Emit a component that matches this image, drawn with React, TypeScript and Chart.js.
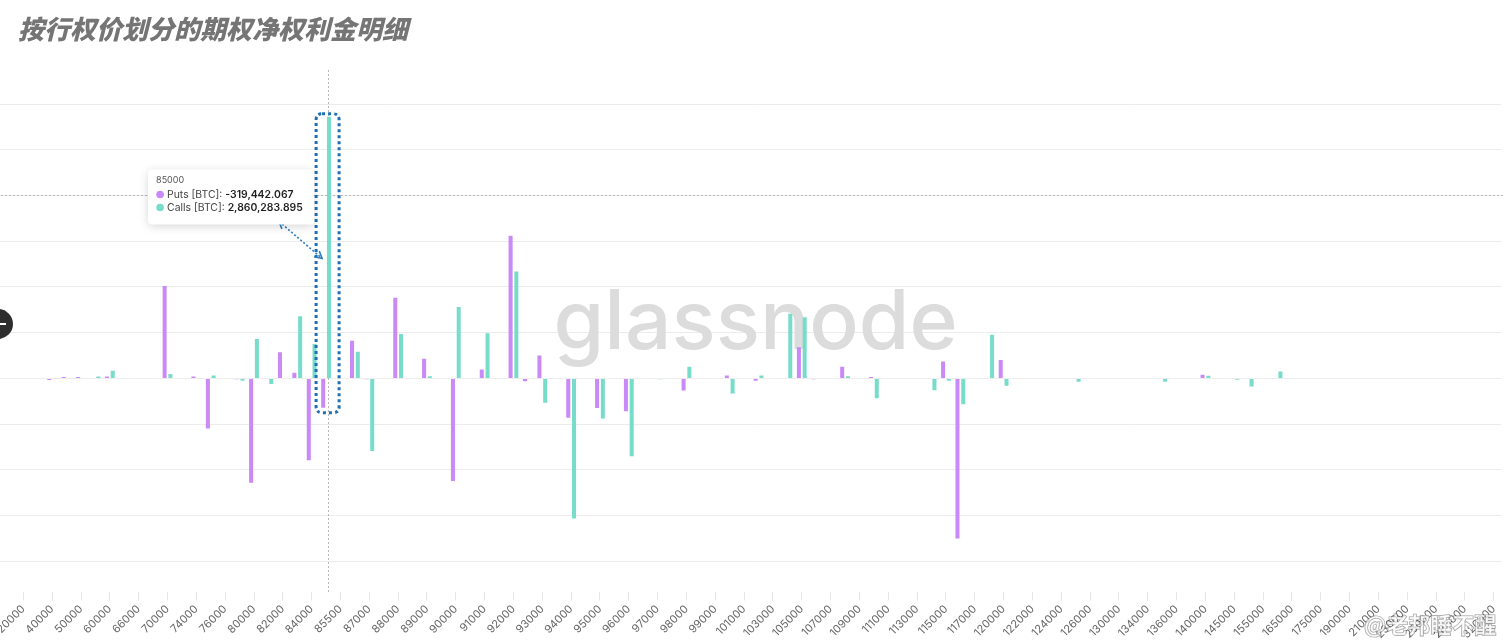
import React, { useEffect, useRef } from 'react';
import { Chart, registerables } from 'chart.js';

Chart.register(...registerables);

const TITLE = '按行权价划分的期权净权利金明细';

const strikes = [
  20000, 30000, 40000, 45000, 50000, 55000, 60000, 65000, 66000, 68000,
  70000, 72000, 74000, 75000, 76000, 78000, 80000, 81000, 82000, 83000,
  84000, 85000, 85500, 86000, 87000, 87500, 88000, 88500, 89000, 89500,
  90000, 90500, 91000, 91500, 92000, 92500, 93000, 93500, 94000, 94500,
  95000, 95500, 96000, 96500, 97000, 97500, 98000, 98500, 99000, 100000,
  101000, 102000, 103000, 104000, 105000, 106000, 107000, 108000, 109000, 110000,
  111000, 112000, 113000, 114000, 115000, 116000, 117000, 118000, 120000, 121000,
  122000, 123000, 124000, 125000, 126000, 128000, 130000, 132000, 134000, 135000,
  136000, 138000, 140000, 142000, 145000, 150000, 155000, 160000, 165000, 170000,
  175000, 180000, 190000, 200000, 210000, 220000, 230000, 240000, 250000, 260000,
  280000, 300000, 320000,
];

const puts = [
  0, 0, -18000, 15000, 15000, 0, 20000, -6000, 0, 0,
  1010000, -6000, 22000, -548000, 0, -10000, -1140000, -5000, 285000, 63000,
  -895000, -319442.067, 0, 413000, -10000, 0, 882000, 0, 215000, -5000,
  -1120000, -6000, 99000, 6000, 1560000, -30000, 252000, 0, -431000, 0,
  -322000, 0, -358000, 0, 5000, 0, -132000, 0, 0, 33000,
  0, -25000, 0, 6000, 340000, -8000, 0, 128000, 0, 15000,
  0, 0, 0, 0, 186000, -1750000, 0, 0, 201000, 0,
  0, 0, 0, 0, 0, 0, 0, 0, 0, 0,
  0, 0, 40000, 0, 0, 0, 0, 0, 0, 0,
  0, 0, 0, 0, 0, 0, 0, 0, 0, 0,
  0, 0, 0,
];

const calls = [
  0, 6000, 0, 0, 6000, 20000, 84000, 0, 0, 0,
  48000, 0, 0, 33000, 0, -25000, 432000, -61000, -5000, 680000,
  377000, 2860283.895, 0, 293000, -793000, 0, 487000, 0, 25000, 6000,
  782000, -5000, 494000, 5000, 1170000, -6000, -267000, 5000, -1530000, 0,
  -439000, 0, -852000, 0, -10000, 0, 128000, 5000, 5000, -164000,
  6000, 33000, 0, 706000, 669000, 0, 0, 25000, 0, -216000,
  5000, 0, 0, -128000, -25000, -281000, 0, 479000, -80000, 0,
  0, 0, 5000, -36000, 0, 0, 5000, 0, 0, -36000,
  0, 0, 29000, 0, -15000, -88000, 6000, 77000, 0, 0,
  0, 0, 0, 0, 0, 5000, 0, 0, 0, 0,
  0, 0, 0,
];

const yTicks = [-2000000, -1500000, -1000000, -500000, 0, 500000, 1000000, 1500000, 2000000, 2500000, 3000000];
const Y_MIN = -2340000;
const Y_MAX = 3372000;

const hoverIndex = 21;
const hoverValue = 2000000;
const HOVER_DX = 2;

const PURPLE = '#c98af7';
const TEAL = '#78dccb';
const GRID = '#ececec';
const SHIFT = 3;

const fmt = (v: number) =>
  v.toLocaleString('en-US', { minimumFractionDigits: 3, maximumFractionDigits: 3 });

function roundRectPath(ctx: CanvasRenderingContext2D, x: number, y: number, w: number, h: number, r: number) {
  ctx.beginPath();
  ctx.moveTo(x + r, y);
  ctx.lineTo(x + w - r, y);
  ctx.quadraticCurveTo(x + w, y, x + w, y + r);
  ctx.lineTo(x + w, y + h - r);
  ctx.quadraticCurveTo(x + w, y + h, x + w - r, y + h);
  ctx.lineTo(x + r, y + h);
  ctx.quadraticCurveTo(x, y + h, x, y + h - r);
  ctx.lineTo(x, y + r);
  ctx.quadraticCurveTo(x, y, x + r, y);
  ctx.closePath();
}

function arrowHead(ctx: CanvasRenderingContext2D, tx: number, ty: number, fx: number, fy: number) {
  const ang = Math.atan2(ty - fy, tx - fx);
  const len = 8;
  ctx.beginPath();
  ctx.moveTo(tx - len * Math.cos(ang - 0.5), ty - len * Math.sin(ang - 0.5));
  ctx.lineTo(tx, ty);
  ctx.lineTo(tx - len * Math.cos(ang + 0.5), ty - len * Math.sin(ang + 0.5));
  ctx.stroke();
}

const backgroundPlugin = {
  id: 'bgMarks',
  beforeDatasetsDraw(chart: any) {
    const { ctx, chartArea, scales } = chart;
    const cx = (chartArea.left + chartArea.right) / 2;
    const cy = (chartArea.top + chartArea.bottom) / 2;
    ctx.save();
    ctx.strokeStyle = GRID;
    ctx.lineWidth = 1;
    yTicks.forEach((v) => {
      const p = Math.round(scales.y.getPixelForValue(v) - 0.5) + 0.5;
      ctx.beginPath();
      ctx.moveTo(0, p);
      ctx.lineTo(chartArea.left, p);
      ctx.stroke();
    });
    ctx.font = '500 82px Inter';
    ctx.fillStyle = '#dcdcdc';
    ctx.textAlign = 'center';
    ctx.textBaseline = 'alphabetic';
    ctx.fillText('glassnode', cx - 3, cy + 18);
    const x = Math.round(scales.x.getPixelForValue(hoverIndex) + HOVER_DX) + 0.5;
    const y = Math.round(scales.y.getPixelForValue(hoverValue)) + 0.5;
    ctx.setLineDash([2, 2]);
    ctx.strokeStyle = '#b8b8b8';
    ctx.lineWidth = 1;
    ctx.beginPath();
    ctx.moveTo(x, chartArea.top);
    ctx.lineTo(x, chartArea.bottom);
    ctx.stroke();
    ctx.beginPath();
    ctx.moveTo(0, y);
    ctx.lineTo(chart.width, y);
    ctx.stroke();
    ctx.restore();
  },
};

const overlayPlugin = {
  id: 'overlay',
  afterDraw(chart: any) {
    const { ctx, scales } = chart;
    const xc = scales.x.getPixelForValue(hoverIndex);
    const x = xc + HOVER_DX;
    const y = scales.y.getPixelForValue(hoverValue);
    const pBar = chart.getDatasetMeta(0).data[hoverIndex];
    const cBar = chart.getDatasetMeta(1).data[hoverIndex];
    ctx.save();
    const top = Math.min(pBar.y, cBar.y, pBar.base) - 3;
    const bottom = Math.max(pBar.y, cBar.y, pBar.base) + 5;
    ctx.setLineDash([3, 3]);
    ctx.lineWidth = 3;
    ctx.strokeStyle = '#1e6fb5';
    roundRectPath(ctx, xc - 10, top, 23, bottom - top, 6);
    ctx.stroke();

    const ax = x - 49, ay = y + 26, bx2 = x - 6, by2 = y + 63;
    ctx.lineWidth = 1.6;
    ctx.strokeStyle = '#2c7cc0';
    ctx.setLineDash([2, 2]);
    ctx.beginPath();
    ctx.moveTo(ax, ay);
    ctx.lineTo(bx2, by2);
    ctx.stroke();
    ctx.setLineDash([]);
    arrowHead(ctx, ax, ay, bx2, by2);
    arrowHead(ctx, bx2, by2, ax, ay);

    const bw = 166, bh = 55;
    const bx = x - 180, by = y - 26;
    ctx.shadowColor = 'rgba(0,0,0,0.16)';
    ctx.shadowBlur = 10;
    ctx.shadowOffsetY = 2;
    ctx.fillStyle = '#ffffff';
    roundRectPath(ctx, bx, by, bw, bh, 4);
    ctx.fill();
    ctx.shadowColor = 'transparent';
    ctx.shadowBlur = 0;
    ctx.shadowOffsetY = 0;

    ctx.textBaseline = 'middle';
    ctx.textAlign = 'left';
    ctx.font = '9px Inter';
    ctx.fillStyle = '#555';
    ctx.fillText(String(strikes[hoverIndex]), bx + 8, by + 11);

    const rows = [
      { color: PURPLE, label: 'Puts [BTC]: ', value: fmt(puts[hoverIndex]) },
      { color: TEAL, label: 'Calls [BTC]: ', value: fmt(calls[hoverIndex]) },
    ];
    rows.forEach((r, i) => {
      const ry = by + 25 + i * 13;
      ctx.fillStyle = r.color;
      ctx.beginPath();
      ctx.arc(bx + 12, ry, 3.8, 0, Math.PI * 2);
      ctx.fill();
      ctx.font = '10.4px Inter';
      ctx.fillStyle = '#444';
      ctx.fillText(r.label, bx + 19, ry);
      const w = ctx.measureText(r.label).width;
      ctx.font = '600 10.4px Inter';
      ctx.fillStyle = '#1e1e1e';
      ctx.fillText(r.value, bx + 19 + w, ry);
    });

    ctx.font = '600 22px "Noto Sans CJK SC"';
    ctx.textBaseline = 'alphabetic';
    ctx.lineWidth = 1.2;
    ctx.strokeStyle = 'rgba(70,70,70,0.55)';
    ctx.fillStyle = 'rgba(255,255,255,0.7)';
    ctx.strokeText('@老邦睡不醒', 1364 + SHIFT, 633);
    ctx.fillText('@老邦睡不醒', 1364 + SHIFT, 633);
    ctx.restore();
  },
};

export default function App() {
  const ref = useRef<HTMLCanvasElement>(null);
  useEffect(() => {
    if (!ref.current) return;
    const labels = strikes.map(String);
    const chart = new Chart(ref.current, {
      type: 'bar',
      data: {
        labels,
        datasets: [
          { label: 'Puts [BTC]', data: puts, backgroundColor: PURPLE, borderWidth: 0 },
          { label: 'Calls [BTC]', data: calls, backgroundColor: TEAL, borderWidth: 0 },
        ],
      },
      options: {
        animation: false,
        responsive: false,
        events: [],
        datasets: { bar: { categoryPercentage: 0.8, barPercentage: 0.7 } },
        layout: { padding: { top: 70, right: 0, left: 0, bottom: 0 } },
        plugins: { legend: { display: false }, tooltip: { enabled: false }, title: { display: false } },
        scales: {
          x: {
            grid: {
              display: true,
              drawOnChartArea: false,
              drawTicks: true,
              tickLength: 8,
              offset: false,
              color: (c: any) => (c.index % 2 === 0 ? '#e6e6e6' : 'rgba(0,0,0,0)'),
            },
            border: { display: false },
            ticks: {
              autoSkip: false,
              minRotation: 45,
              maxRotation: 45,
              color: '#666',
              font: { family: 'Inter', size: 11 },
              padding: 2,
              callback: (_v: any, i: number) => (i % 2 === 0 ? labels[i] : ''),
            },
          },
          y: {
            min: Y_MIN,
            max: Y_MAX,
            afterBuildTicks: (scale: any) => {
              scale.ticks = yTicks.map((v) => ({ value: v }));
            },
            grid: { color: GRID, drawTicks: false },
            border: { display: false },
            ticks: { display: false },
          },
        },
      },
      plugins: [backgroundPlugin, overlayPlugin],
    });
    return () => chart.destroy();
  }, []);

  return (
    <div style={{ position: 'fixed', left: 0, top: 0, width: 1505, height: 643, overflow: 'hidden', background: '#fff' }}>
      <canvas
        ref={ref}
        width={1505 + SHIFT}
        height={643}
        style={{ position: 'absolute', left: -SHIFT, top: 0, display: 'block', width: 1505 + SHIFT, height: 643 }}
      />
      <div
        style={{
          position: 'absolute',
          left: 18,
          top: 15,
          fontFamily: '"Noto Sans CJK SC", sans-serif',
          fontWeight: 900,
          fontStyle: 'italic',
          fontSize: 26,
          lineHeight: '26px',
          color: '#757575',
          whiteSpace: 'nowrap',
        }}
      >
        {TITLE}
      </div>
      <div
        style={{
          position: 'absolute',
          left: -17,
          top: 309,
          width: 30,
          height: 30,
          borderRadius: '50%',
          background: '#2e2e2e',
        }}
      >
        <div style={{ position: 'absolute', left: 17, top: 14, width: 6, height: 2, background: '#fff' }} />
      </div>
    </div>
  );
}
